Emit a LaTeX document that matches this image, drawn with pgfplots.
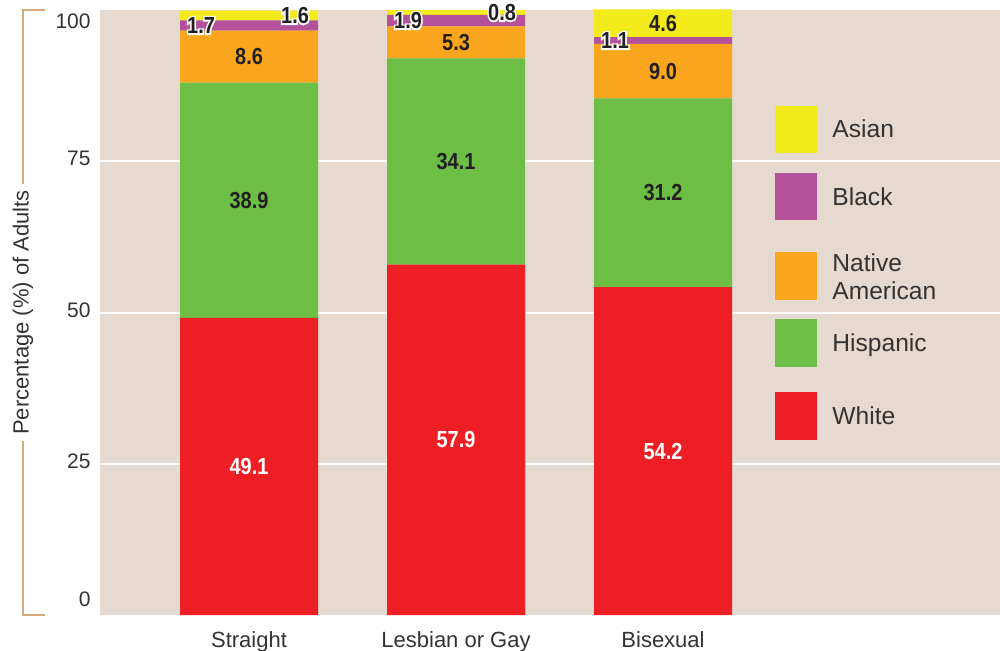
\documentclass[border=0pt]{standalone}
\usepackage{fontspec}
\setmainfont{Liberation Sans}
\newfontfamily\numfont{Liberation Sans}[FakeStretch=0.86]
% stroked copy of the bold face, set in white under small labels
\newfontface\halofont{Liberation Sans Bold}[FakeStretch=0.86, FakeBold=14]
\usepackage{pgfplots}
\usepackage{pgfplotstable}
\pgfplotsset{compat=1.18}

\definecolor{panel}{HTML}{E5D9D0}
\definecolor{cwhite}{HTML}{ED1F24}
\definecolor{chisp}{HTML}{6DBE45}
\definecolor{cnative}{HTML}{F9A61E}
\definecolor{cblack}{HTML}{B5519B}
\definecolor{casian}{HTML}{F2EA1A}
\definecolor{ink}{HTML}{333333}
\definecolor{numink}{HTML}{231F20}
\definecolor{bracket}{HTML}{D6A97D}

\tikzset{segfont/.style={font=\numfont\bfseries\fontsize{11.6}{12}\selectfont}}

% one decimal, keep trailing zero
\newcommand\val[1]{\pgfmathprintnumber[fixed,fixed zerofill,precision=1]{#1}}
% white outline behind small labels
\newcommand\halo[1]{\rlap{\halofont\fontsize{11.6}{12}\selectfont\color{white}#1}#1}
% legend entry: colour, square top, square bottom, text baseline (last line), text
\newcommand\legentry[5]{%
  \fill[#1] ([xshift=337.5pt,yshift=#2pt]current axis.north west)
    rectangle ([xshift=358.5pt,yshift=#3pt]current axis.north west);
  \node[anchor=base west, inner sep=0pt, text=ink, align=left,
        font=\fontsize{12.3}{14}\selectfont]
    at ([xshift=366pt,yshift=#4pt]current axis.north west) {#5};}

% race/ethnicity shares (%) by sexual orientation
\pgfplotstableread{
x white hisp native black asian
0 49.1 38.9 8.6 1.7 1.6
1 57.9 34.1 5.3 1.9 0.8
2 54.2 31.2 9.0 1.1 4.6
}\shares

\pgfplotsset{
  frame/.style={
    scale only axis, width=450pt, height=302.5pt,
    xmin=-0.72, xmax=3.628, ymin=0, ymax=100, clip=false},
  seglabel/.style 2 args={only marks, mark=none, point meta=\thisrow{#1},
    nodes near coords={\val{\pgfplotspointmeta}},
    every node near coord/.append style={segfont, anchor=center, inner sep=0pt, text=#2}},
}

\begin{document}
\begin{tikzpicture}
\begin{axis}[
  frame,
  ybar stacked, bar width=69pt,
  axis background/.style={fill=panel},
  axis line style={draw=none},
  major tick length=0pt,
  ytick={25,50,75}, yticklabels={25,50,75},
  extra y ticks={0,100},
  extra y tick labels={\raisebox{6.4pt}{0},\raisebox{-6.9pt}{100}},
  extra y tick style={grid=none},
  ymajorgrids, grid style={white, line width=1pt},
  yticklabel style={anchor=base east, inner sep=0pt, xshift=-4.5pt, yshift=-2.25pt,
    font=\fontsize{10.5}{12}\selectfont, text=ink},
  xtick={0,1,2}, xticklabels={Straight,Lesbian or Gay,Bisexual},
  xticklabel style={anchor=base, inner sep=0pt, yshift=-16pt,
    font=\fontsize{11}{13}\selectfont, text=ink},
]
\addplot[fill=cwhite,  draw=none] table[x=x,y=white]{\shares};
\addplot[fill=chisp,   draw=none] table[x=x,y=hisp]{\shares};
\addplot[fill=cnative, draw=none] table[x=x,y=native]{\shares};
\addplot[fill=cblack,  draw=none] table[x=x,y=black]{\shares};
\addplot[fill=casian,  draw=none] table[x=x,y=asian]{\shares};
\end{axis}

% value labels, centred in each segment, drawn over all bars
\begin{axis}[frame, hide axis, /pgf/number format/assume math mode=true]
\addplot[seglabel={white}{white}]
  table[x=x, y expr=\thisrow{white}/2]{\shares};
\addplot[seglabel={hisp}{numink}]
  table[x=x, y expr=\thisrow{white}+\thisrow{hisp}/2]{\shares};
\addplot[seglabel={native}{numink}]
  table[x=x, y expr=\thisrow{white}+\thisrow{hisp}+\thisrow{native}/2]{\shares};
\addplot[seglabel={black}{numink}, nodes near coords={\halo{\val{\pgfplotspointmeta}}},
  every node near coord/.append style={xshift=-24pt}]
  table[x=x, y expr=\thisrow{white}+\thisrow{hisp}+\thisrow{native}+\thisrow{black}/2]{\shares};
\addplot[seglabel={asian}{numink}, nodes near coords={\halo{\val{\pgfplotspointmeta}}},
  every node near coord/.append style={xshift=23pt}, skip coords between index={2}{3}]
  table[x=x, y expr=\thisrow{white}+\thisrow{hisp}+\thisrow{native}+\thisrow{black}+\thisrow{asian}/2]{\shares};
\addplot[seglabel={asian}{numink}, skip coords between index={0}{2}]
  table[x=x, y expr=\thisrow{white}+\thisrow{hisp}+\thisrow{native}+\thisrow{black}+\thisrow{asian}/2]{\shares};
\end{axis}

% legend
\legentry{casian}{-48}{-71.5}{-63.9}{Asian}
\legentry{cblack}{-81.5}{-105}{-97.9}{Black}
\legentry{cnative}{-121}{-145}{-144.9}{Native\\American}
\legentry{chisp}{-154.5}{-178.5}{-170.9}{Hispanic}
\legentry{cwhite}{-191}{-215}{-207.4}{White}

% bracketed y-axis title
\draw[bracket, line width=0.75pt]
  ([xshift=-27.5pt]current axis.north west) -- ([xshift=-38.5pt]current axis.north west)
  -- ([xshift=-38.5pt]current axis.south west) -- ([xshift=-27.5pt]current axis.south west);
\node[rotate=90, fill=white, text=ink, inner xsep=3pt, inner ysep=1pt,
      font=\fontsize{11}{13}\selectfont]
  at ([xshift=-38.5pt]current axis.west) {Percentage (\%) of Adults};

\pgfresetboundingbox
\path ([xshift=-50pt,yshift=5pt]current axis.north west)
  rectangle ([yshift=-17.5pt]current axis.south east);
\end{tikzpicture}
\end{document}
